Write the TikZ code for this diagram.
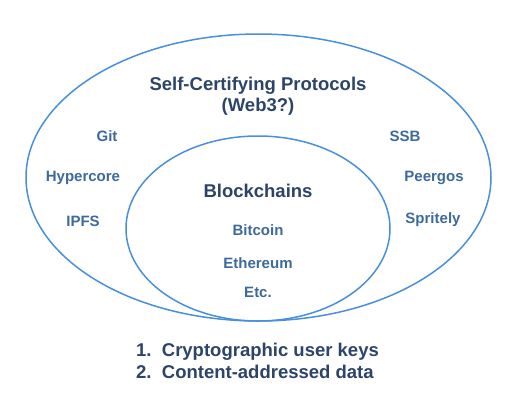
\documentclass[tikz,border=0pt]{standalone}
\usepackage{fontspec}
\setmainfont{Liberation Sans}
\definecolor{ring}{HTML}{4A8FDA}
\definecolor{dark}{HTML}{2B4468}
\definecolor{item}{HTML}{3D6A9C}
\begin{document}
\begin{tikzpicture}[x=1pt,y=-1pt,
  ringline/.style={draw=ring,line width=1.5pt},
  title/.style={font=\fontsize{18.5}{21}\selectfont\bfseries,text=dark,align=center,inner sep=0pt},
  itemlabel/.style={font=\fontsize{15}{17}\selectfont\bfseries,text=item,inner sep=0pt},
  listline/.style={font=\fontsize{18.5}{20.5}\selectfont\bfseries,text=dark,anchor=west,inner sep=0pt}]
\useasboundingbox (0,0) rectangle (520,400);
\draw[ringline] (258.5,177.5) ellipse [x radius=232.5, y radius=143.5];
\draw[ringline] (258,228.5) ellipse [x radius=132, y radius=92.5];
\node[title] (sc) at (258,96.5) {Self-Certifying Protocols\\(Web3?)};
\node[itemlabel] (git) at (107,136) {Git};
\node[itemlabel] (hyp) at (83,178) {Hypercore};
\node[itemlabel] (ipfs) at (83,221) {IPFS};
\node[itemlabel] (ssb) at (405,136) {SSB};
\node[itemlabel] (peer) at (434,178) {Peergos};
\node[itemlabel] (spr) at (433,220) {Spritely};
\node[title] (bc) at (258,191) {Blockchains};
\node[itemlabel] (btc) at (258,230) {Bitcoin};
\node[itemlabel] (eth) at (258,263) {Ethereum};
\node[itemlabel] (etc) at (258,292) {Etc.};
\node[listline] (l1) at (136,352) {1.\ \ Cryptographic user keys};
\node[listline] (l2) at (136,372) {2.\ \ Content-addressed data};
\end{tikzpicture}
\end{document}
